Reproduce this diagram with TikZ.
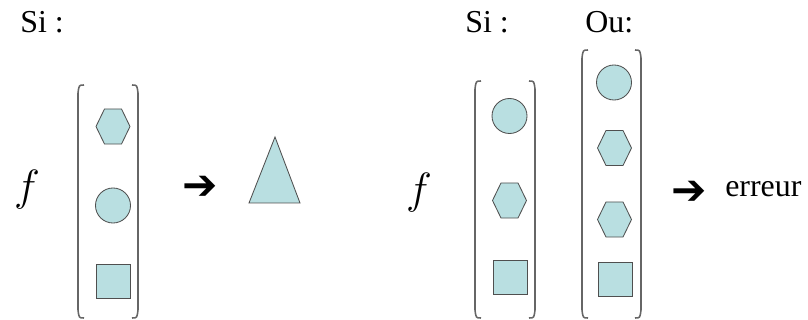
\documentclass[tikz,border=0pt]{standalone}
\usepackage{graphicx}
\usepackage{fontspec}
\setmainfont{Liberation Serif}
\newfontfamily\symbfont{DejaVu Sans}
\usetikzlibrary{shapes.geometric}
\definecolor{bleu}{HTML}{B9DFE1}
\definecolor{trait}{HTML}{4F4F4F}
\definecolor{crochet}{HTML}{666666}
\tikzset{
  forme/.style={draw=trait,fill=bleu,line width=0.6pt,inner sep=0pt},
  rond/.style={forme,circle,minimum size=0.875cm},
  carre/.style={forme,rectangle,minimum size=0.85cm},
  hexa/.style={forme,regular polygon,regular polygon sides=6,minimum size=0.85cm,transform shape,yscale=1.19},
  paren/.style={draw=crochet,line width=1.1pt},
  texte/.style={inner sep=0pt,font=\fontsize{22.7}{27}\selectfont},
  fleche/.style={inner sep=0pt,font=\symbfont\fontsize{30}{34}\selectfont}
}
\newcommand\fonc{\scalebox{1.5}{$f$}}
\begin{document}
\begin{tikzpicture}[x=0.025cm,y=-0.025cm]
        \useasboundingbox (0,0) rectangle (808,320);
        % premier cas
        \node[texte,anchor=base west](si1)at(20,33){Si :};
        \node[texte](f1)at(27,190){\fonc};
        \node[hexa](hexA)at(113,126.5){};
        \node[rond](rondA)at(113,205.5){};
        \node[carre](carreA)at(113.5,281.5){};
        \node[fleche](flA)at(200,188){➔};
        \draw[forme](249,203)--(275,137)--(300,203)--cycle;
        % second cas
        \node[texte,anchor=base west](si2)at(465,33){Si :};
        \node[texte,anchor=base west](ou)at(585,33){Ou:};
        \node[texte](f2)at(419,193){\fonc};
        \node[rond](rondB)at(509.5,116){};
        \node[hexa](hexB)at(509.5,200.5){};
        \node[carre](carreB)at(510,277.5){};
        \node[rond](rondC)at(614,82.5){};
        \node[hexa](hexC)at(614.5,148){};
        \node[hexa](hexD)at(614.5,219.5){};
        \node[carre](carreC)at(615.5,279){};
        \node[fleche](flB)at(689,193){➔};
        \node[texte,anchor=base west](err)at(725,197){erreur};
        % parentheses
        \foreach \xa/\xb/\yh in {78/138/85,475/535/81,582/641/50}{
          \draw[paren](\xa+6,\yh) .. controls (\xa+1,\yh) .. (\xa,\yh+8)--(\xa,310) .. controls (\xa+1,318) .. (\xa+6,318);
          \draw[paren](\xb-6,\yh) .. controls (\xb-1,\yh) .. (\xb,\yh+8)--(\xb,310) .. controls (\xb-1,318) .. (\xb-6,318);
        }
    \end{tikzpicture}
\end{document}
